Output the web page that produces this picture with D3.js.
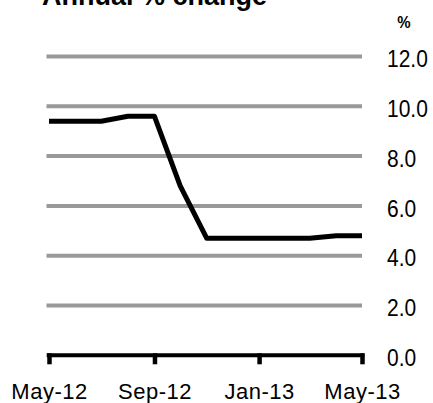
<!DOCTYPE html>
<html>
<head>
<meta charset="utf-8">
<script src="https://cdn.jsdelivr.net/npm/d3@7"></script>
<style>
  body { margin: 0; background: #fff; }
  text { font-family: Arial, "Liberation Sans", sans-serif; fill: #000; }
</style>
</head>
<body>
<div id="chart"></div>
<script>
// monthly data, May-12 .. May-13
var months = ["2012-05", "2012-06", "2012-07", "2012-08", "2012-09", "2012-10", "2012-11",
              "2012-12", "2013-01", "2013-02", "2013-03", "2013-04", "2013-05"];
var values = [9.4, 9.4, 9.4, 9.6, 9.6, 6.8, 4.7, 4.7, 4.7, 4.7, 4.7, 4.8, 4.8];
var xTickMonths = ["2012-05", "2012-09", "2013-01", "2013-05"];
var yTicks = [0, 2, 4, 6, 8, 10, 12];

var parse = d3.timeParse("%Y-%m");

var W = 433, H = 403;
var margin = {top: 56.5, right: 71, bottom: 47.7, left: 49};
var width = W - margin.left - margin.right,
    height = H - margin.top - margin.bottom;

var x = d3.scaleTime()
    .domain([parse(months[0]), parse(months[months.length - 1])])
    .range([0, width]);
var y = d3.scaleLinear()
    .domain([0, 12])
    .range([height, 0]);

var svg = d3.select("#chart").append("svg")
    .attr("width", W)
    .attr("height", H);

// title, partly cut off at the top
svg.append("text")
    .attr("x", 42)
    .attr("y", 5)
    .style("font-size", "27px")
    .style("font-weight", "bold")
    .text("Annual % change");

svg.append("text")
    .attr("text-anchor", "middle")
    .style("font-size", "15px")
    .style("font-weight", "bold")
    .attr("transform", "translate(404,28) scale(1,1.15)")
    .text("%");

var g = svg.append("g")
    .attr("transform", "translate(" + margin.left + "," + margin.top + ")");

// grid lines
g.selectAll(".grid")
    .data(yTicks.filter(function(d) { return d > 0; }))
  .enter().append("line")
    .attr("class", "grid")
    .attr("x1", -2.5)
    .attr("x2", width)
    .attr("y1", function(d) { return y(d); })
    .attr("y2", function(d) { return y(d); })
    .attr("stroke", "#999999")
    .attr("stroke-width", 4);

// y labels on the right
var yAxis = g.append("g")
    .attr("transform", "translate(" + width + ",0)")
    .call(d3.axisRight(y).tickValues(yTicks).tickSize(0).tickPadding(25)
        .tickFormat(d3.format(".1f")));
yAxis.select(".domain").remove();
yAxis.selectAll("text")
    .attr("x", 0)
    .attr("dy", "0.36em")
    .style("font-size", "21px")
    .attr("transform", "translate(25,1.5) scale(1,1.15)");

// x axis
var xAxis = g.append("g")
    .attr("transform", "translate(0," + height + ")")
    .call(d3.axisBottom(x)
        .tickValues(xTickMonths.map(parse))
        .tickFormat(d3.timeFormat("%b-%y"))
        .tickSizeOuter(0));
xAxis.select(".domain")
    .attr("stroke", "#000")
    .attr("stroke-width", 4)
    .attr("d", "M-2.3,0H" + (width + 2.3));
xAxis.selectAll(".tick line")
    .attr("stroke", "#000")
    .attr("stroke-width", 4.5)
    .attr("y1", -2)
    .attr("y2", 9);
xAxis.selectAll(".tick text")
    .attr("y", 43.5)
    .attr("dy", 0)
    .style("font-size", "22px")
    .style("letter-spacing", "0.5px");

// the series
var line = d3.line()
    .x(function(d, i) { return x(parse(months[i])); })
    .y(function(d) { return y(d); });

g.append("path")
    .datum(values)
    .attr("fill", "none")
    .attr("stroke", "#000")
    .attr("stroke-width", 5)
    .attr("stroke-linejoin", "round")
    .attr("d", line);
</script>
</body>
</html>
